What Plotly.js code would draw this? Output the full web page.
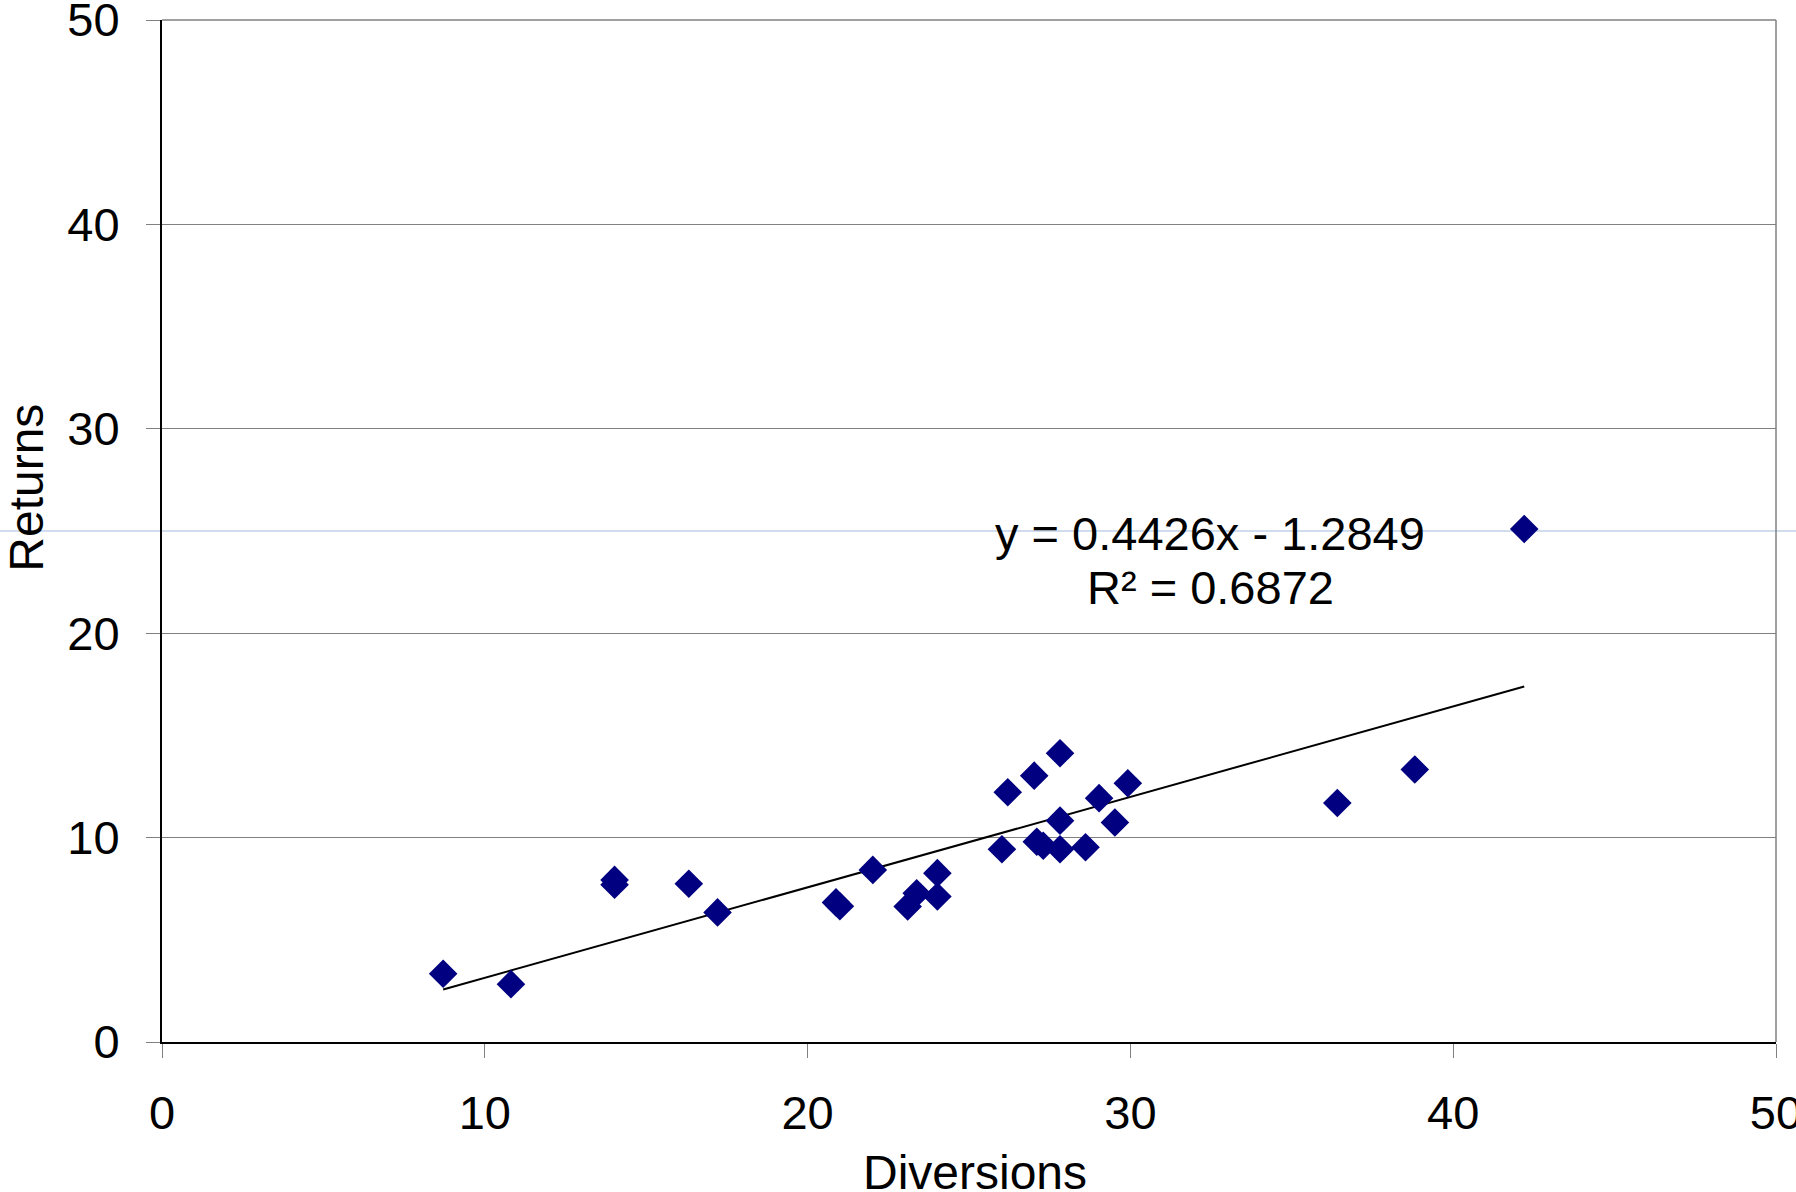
<!DOCTYPE html>
<html>
<head>
<meta charset="utf-8">
<script src="https://cdn.plot.ly/plotly-3.0.1.min.js"></script>
<style>html,body{margin:0;padding:0;background:#fff;}#chart{width:1796px;height:1192px;}</style>
</head>
<body>
<div id="chart"></div>
<script>
// Data
const diversions = [8.71, 10.81, 14.02, 14.02, 16.32, 17.21, 20.88, 21.0, 22.02, 23.1, 23.38, 24.02, 24.02, 26.02, 26.2, 27.02, 27.82, 27.1, 27.3, 27.82, 27.82, 28.61, 29.03, 29.52, 29.92, 36.41, 38.81, 42.2];
const returns    = [3.34, 2.83, 7.93, 7.69, 7.74, 6.34, 6.83, 6.64, 8.42, 6.63, 7.28, 8.26, 7.12, 9.43, 12.22, 13.03, 14.13, 9.8, 9.6, 10.83, 9.43, 9.53, 11.93, 10.74, 12.66, 11.69, 13.33, 25.1];
const slope = 0.4426;
const intercept = -1.2849;
const rSquared = 0.6872;
const tickValues = [0, 10, 20, 30, 40, 50];
const tickLabels = ['0', '10', '20', '30', '40', '50'];

const xMin = Math.min(...diversions), xMax = Math.max(...diversions);
const trendX = [xMin, xMax];
const trendY = trendX.map(v => slope * v + intercept);

const FONT = 'Liberation Sans, Arial, sans-serif';

const traces = [
  {
    x: trendX, y: trendY, type: 'scatter', mode: 'lines',
    line: {color: '#000000', width: 2}, hoverinfo: 'skip', showlegend: false
  },
  {
    x: diversions, y: returns, type: 'scatter', mode: 'markers',
    marker: {symbol: 'diamond', size: 22, color: '#000080', line: {width: 0}},
    showlegend: false
  }
];

const layout = {
  width: 1796, height: 1192,
  margin: {l: 162, r: 20, t: 20, b: 150, pad: 0},
  paper_bgcolor: '#ffffff', plot_bgcolor: '#ffffff',
  font: {family: FONT, color: '#000000'},
  showlegend: false,
  xaxis: {
    range: [0, 50], tickvals: tickValues, ticktext: tickLabels,
    ticks: 'outside', ticklen: 14, tickcolor: '#808080', tickwidth: 1,
    showgrid: false, zeroline: false,
    showline: true, linecolor: '#000000', linewidth: 2,
    tickfont: {family: FONT, size: 47, color: '#000000'},
    ticklabelstandoff: 15, ticklabeloverflow: 'allow',
    fixedrange: true
  },
  yaxis: {
    range: [0, 50], tickvals: tickValues, ticktext: tickLabels,
    ticks: 'outside', ticklen: 14, tickcolor: '#808080', tickwidth: 1,
    showgrid: true, gridcolor: '#808080', gridwidth: 1, zeroline: false,
    showline: true, linecolor: '#000000', linewidth: 2,
    tickfont: {family: FONT, size: 47, color: '#000000'},
    ticklabelstandoff: 17, ticklabeloverflow: 'allow',
    fixedrange: true
  },
  shapes: [
    {type: 'line', xref: 'paper', yref: 'paper', x0: 0, x1: 1, y0: 1, y1: 1, line: {color: '#808080', width: 1.5}},
    {type: 'line', xref: 'paper', yref: 'paper', x0: 1, x1: 1, y0: 0, y1: 1, line: {color: '#808080', width: 1.5}},
    {type: 'line', xref: 'paper', yref: 'paper', x0: -0.11, x1: 1.02, y0: 0.5, y1: 0.5, layer: 'below', line: {color: '#9fbbdd', width: 1}}
  ],
  annotations: [
    {text: 'y = ' + slope + 'x - ' + Math.abs(intercept), x: 32.48, y: 24.9, xref: 'x', yref: 'y',
     showarrow: false, xanchor: 'center', yanchor: 'middle', font: {family: FONT, size: 47, color: '#000000'}},
    {text: 'R² = ' + rSquared, x: 32.48, y: 22.25, xref: 'x', yref: 'y',
     showarrow: false, xanchor: 'center', yanchor: 'middle', font: {family: FONT, size: 47, color: '#000000'}},
    {text: 'Diversions', x: 0.5036, y: -0.1275, xref: 'paper', yref: 'paper',
     showarrow: false, xanchor: 'center', yanchor: 'middle', font: {family: FONT, size: 48, color: '#000000'}},
    {text: 'Returns', x: -0.0845, y: 27.1, xref: 'paper', yref: 'y', textangle: -90,
     showarrow: false, xanchor: 'center', yanchor: 'middle', font: {family: FONT, size: 48, color: '#000000'}}
  ]
};

Plotly.newPlot('chart', traces, layout, {displayModeBar: false, staticPlot: true});
</script>
</body>
</html>
